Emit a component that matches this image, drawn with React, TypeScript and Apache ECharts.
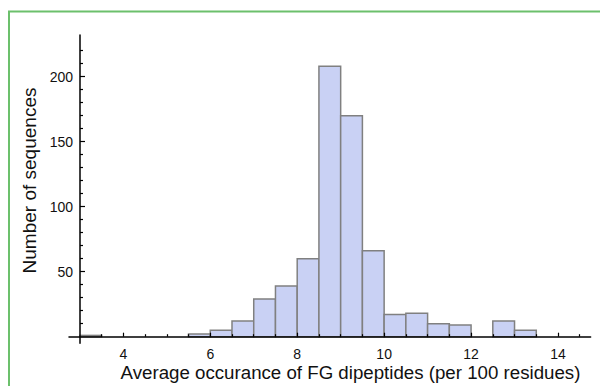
import React, { useEffect, useRef } from "react";
import * as echarts from "echarts";

// Histogram bins (left edges) and counts
const binStarts = [3.0, 5.5, 6.0, 6.5, 7.0, 7.5, 8.0, 8.5, 9.0, 9.5, 10.0, 10.5, 11.0, 11.5, 12.5, 13.0];
const binWidth = 0.5;
const counts = [1, 2, 5, 12, 29, 39, 60, 208, 170, 66, 17, 18, 10, 9, 12, 5];

// Tick values
const xMajorTicks = [4, 6, 8, 10, 12, 14];
const xMinorTicks = [3.5, 4.5, 5, 5.5, 6.5, 7, 7.5, 8.5, 9, 9.5, 10.5, 11, 11.5, 12.5, 13, 13.5, 14.5];
const yMajorTicks = [50, 100, 150, 200];
const yMinorTicks = [10, 20, 30, 40, 60, 70, 80, 90, 110, 120, 130, 140, 160, 170, 180, 190, 210, 220];

const xTitle = "Average occurance of FG dipeptides (per 100 residues)";
const yTitle = "Number of sequences";

const FONT = "Liberation Sans, Arial, Helvetica, sans-serif";

export default function App() {
  const ref = useRef<HTMLDivElement>(null);

  useEffect(() => {
    document.body.style.margin = "0";
    if (!ref.current) return;
    const chart = echarts.init(ref.current, undefined, { renderer: "svg" });

    const xBase = {
      type: "value" as const,
      min: 2.75,
      max: 14.75,
      position: "bottom" as const,
      splitLine: { show: false },
      z: 5,
    };
    const yBase = {
      type: "value" as const,
      min: -5,
      max: 232,
      position: "left" as const,
      offset: -11,
      splitLine: { show: false },
      z: 5,
    };

    chart.setOption({
      animation: false,
      backgroundColor: "#ffffff",
      grid: { left: 69, right: 9.4, top: 35, bottom: 42.8, containLabel: false },
      xAxis: [
        {
          ...xBase,
          axisLine: { show: true, onZero: true, lineStyle: { color: "#000", width: 1.5 } },
          axisTick: {
            show: true,
            inside: true,
            length: 4,
            customValues: xMajorTicks,
            lineStyle: { color: "#000", width: 1.2 },
          },
          axisLabel: {
            show: true,
            customValues: xMajorTicks,
            fontSize: 14,
            color: "#111",
            fontFamily: FONT,
            margin: 4,
          },
        },
        {
          ...xBase,
          axisLine: { show: false, onZero: true },
          axisTick: {
            show: true,
            inside: true,
            length: 2.5,
            customValues: xMinorTicks,
            lineStyle: { color: "#000", width: 1.2 },
          },
          axisLabel: { show: false },
        },
      ],
      yAxis: [
        {
          ...yBase,
          axisLine: { show: true, onZero: false, lineStyle: { color: "#000", width: 1.5 } },
          axisTick: {
            show: true,
            inside: true,
            length: 5,
            customValues: yMajorTicks,
            lineStyle: { color: "#000", width: 1.2 },
          },
          axisLabel: {
            show: true,
            customValues: yMajorTicks,
            fontSize: 14,
            color: "#111",
            fontFamily: FONT,
            margin: 7,
          },
        },
        {
          ...yBase,
          axisLine: { show: false, onZero: false },
          axisTick: {
            show: true,
            inside: true,
            length: 3,
            customValues: yMinorTicks,
            lineStyle: { color: "#000", width: 1.2 },
          },
          axisLabel: { show: false },
        },
      ],
      series: [
        {
          type: "custom",
          xAxisIndex: 0,
          yAxisIndex: 0,
          z: 2,
          encode: { x: [0, 1], y: 2 },
          data: binStarts.map((s, i) => [s, s + binWidth, counts[i]]),
          renderItem: (params: any, api: any) => {
            const x0 = api.value(0);
            const x1 = api.value(1);
            const c = api.value(2);
            const p0 = api.coord([x0, c]);
            const p1 = api.coord([x1, 0]);
            return {
              type: "rect",
              shape: { x: p0[0], y: p0[1], width: p1[0] - p0[0], height: p1[1] - p0[1] },
              style: { fill: "#c9d1f4", stroke: "#808080", lineWidth: 1.5 },
            };
          },
        },
      ],
      graphic: [
        {
          type: "rect",
          shape: { x: 9, y: 11.5, width: 700, height: 500 },
          style: { fill: "none", stroke: "#6cc06c", lineWidth: 2 },
          silent: true,
        },
        {
          type: "text",
          x: 350.5,
          y: 372.5,
          style: {
            text: xTitle,
            fontSize: 18.7,
            fontFamily: FONT,
            fill: "#111",
            textAlign: "center",
            textVerticalAlign: "middle",
          },
        },
        {
          type: "text",
          x: 29,
          y: 180.5,
          rotation: Math.PI / 2,
          style: {
            text: yTitle,
            fontSize: 19,
            fontFamily: FONT,
            fill: "#111",
            textAlign: "center",
            textVerticalAlign: "middle",
          },
        },
      ],
    });

    return () => chart.dispose();
  }, []);

  return (
    <div
      ref={ref}
      style={{ width: 600, height: 386, position: "fixed", left: 0, top: 0, background: "#fff" }}
    />
  );
}
